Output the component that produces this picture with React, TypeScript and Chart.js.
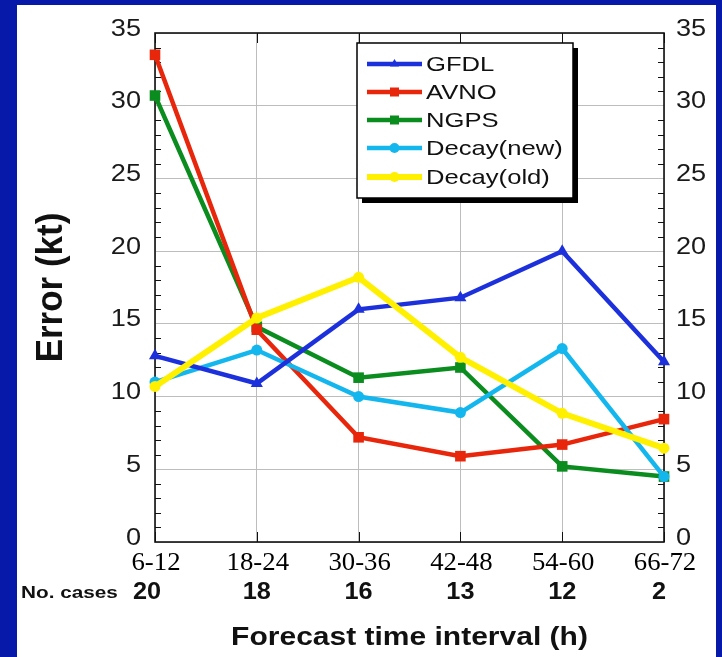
import React, { useEffect, useRef } from 'react';
import { Chart, registerables } from 'chart.js';

Chart.register(...registerables);

const CATEGORIES = ['6-12', '18-24', '30-36', '42-48', '54-60', '66-72'];
const CASES = ['20', '18', '16', '13', '12', '2'];
const GFDL = [12.8, 10.9, 16.0, 16.8, 20.0, 12.4];
const AVNO = [33.5, 14.6, 7.2, 5.9, 6.7, 8.45];
const NGPS = [30.7, 14.8, 11.3, 12.0, 5.2, 4.5];
const DECAY_NEW = [11.0, 13.2, 10.0, 8.9, 13.3, 4.5];
const DECAY_OLD = [10.7, 15.4, 18.2, 12.7, 8.85, 6.45];
const Y_TICKS = [0, 5, 10, 15, 20, 25, 30, 35];
const SERIES_NAMES = ['GFDL', 'AVNO', 'NGPS', 'Decay(new)', 'Decay(old)'];

const COLORS = ['#1c30dc', '#e8260c', '#0b8c1e', '#14b6ee', '#fff000'];
const POINT_STYLES = ['triangle', 'rect', 'rect', 'circle', 'circle'];
const POINT_RADII = [7, 7.5, 7.5, 5.5, 5.5];
const LINE_WIDTHS = [4.5, 4.5, 4.5, 4.5, 6];
const ORDERS = [1, 3, 4, 2, 0];

const BG_BLUE = '#0619a8';
const SANS = '"Liberation Sans", Arial, Helvetica, sans-serif';
const SERIF = '"Liberation Serif", "Times New Roman", serif';

function stretchedText(
  ctx: CanvasRenderingContext2D,
  text: string,
  x: number,
  y: number,
  font: string,
  align: CanvasTextAlign,
  sx: number,
  color = '#111'
) {
  ctx.save();
  ctx.translate(x, y);
  ctx.scale(sx, 1);
  ctx.font = font;
  ctx.fillStyle = color;
  ctx.textAlign = align;
  ctx.textBaseline = 'middle';
  ctx.fillText(text, 0, 0);
  ctx.restore();
}

function drawMarker(ctx: CanvasRenderingContext2D, style: string, x: number, y: number, r: number, color: string) {
  ctx.save();
  ctx.fillStyle = color;
  ctx.beginPath();
  if (style === 'triangle') {
    ctx.moveTo(x, y - r);
    ctx.lineTo(x + r * 0.9, y + r * 0.5);
    ctx.lineTo(x - r * 0.9, y + r * 0.5);
    ctx.closePath();
  } else if (style === 'rect') {
    ctx.rect(x - r, y - r, 2 * r, 2 * r);
  } else {
    ctx.arc(x, y, r, 0, Math.PI * 2);
  }
  ctx.fill();
  ctx.restore();
}

const framePlugin = {
  id: 'frame',
  beforeDraw(chart: any) {
    const ctx = chart.ctx as CanvasRenderingContext2D;
    ctx.save();
    ctx.fillStyle = BG_BLUE;
    ctx.fillRect(0, 0, chart.width, chart.height);
    ctx.fillStyle = '#ffffff';
    ctx.fillRect(17, 5, 699, chart.height - 5);
    ctx.restore();
  },
  beforeDatasetsDraw(chart: any) {
    const ctx = chart.ctx as CanvasRenderingContext2D;
    const { left, right, top, bottom } = chart.chartArea;
    const y = chart.scales.y;
    const x = chart.scales.x;
    ctx.save();
    ctx.strokeStyle = '#111';
    ctx.lineWidth = 1;
    for (let v = 1; v < 35; v++) {
      if (v % 5 === 0) continue;
      const py = Math.round(y.getPixelForValue(v)) + 0.5;
      ctx.beginPath();
      ctx.moveTo(left, py);
      ctx.lineTo(left + 6, py);
      ctx.moveTo(right, py);
      ctx.lineTo(right - 6, py);
      ctx.stroke();
    }
    for (let i = 0; i < CATEGORIES.length; i++) {
      const px = Math.round(x.getPixelForValue(i)) + 0.5;
      ctx.beginPath();
      ctx.moveTo(px, top);
      ctx.lineTo(px, top + 10);
      ctx.moveTo(px, bottom);
      ctx.lineTo(px, bottom - 10);
      ctx.stroke();
    }
    ctx.lineWidth = 1.6;
    ctx.strokeRect(left, top, right - left, bottom - top);
    ctx.restore();
  },
  afterDatasetsDraw(chart: any) {
    const ctx = chart.ctx as CanvasRenderingContext2D;
    const bx = 357, by = 43, bw = 216, bh = 155;
    ctx.save();
    ctx.fillStyle = '#000';
    ctx.fillRect(bx + 5, by + 5, bw, bh);
    ctx.fillStyle = '#fff';
    ctx.fillRect(bx, by, bw, bh);
    ctx.strokeStyle = '#000';
    ctx.lineWidth = 1.5;
    ctx.strokeRect(bx, by, bw, bh);
    const rowY = [64, 92, 120, 148, 177];
    for (let i = 0; i < SERIES_NAMES.length; i++) {
      const ry = rowY[i];
      ctx.strokeStyle = COLORS[i];
      ctx.lineWidth = i === 4 ? 6 : 4.5;
      ctx.beginPath();
      ctx.moveTo(367, ry);
      ctx.lineTo(422, ry);
      ctx.stroke();
      drawMarker(ctx, POINT_STYLES[i], 394.5, ry, POINT_STYLES[i] === 'rect' ? 4.5 : 5, COLORS[i]);
      stretchedText(ctx, SERIES_NAMES[i], 426, ry + 1, `21px ${SANS}`, 'left', 1.22);
    }
    ctx.restore();
  },
  afterDraw(chart: any) {
    const ctx = chart.ctx as CanvasRenderingContext2D;
    const { left, right, top, bottom } = chart.chartArea;
    const y = chart.scales.y;
    const x = chart.scales.x;
    for (const v of Y_TICKS) {
      const py = y.getPixelForValue(v) - 4;
      stretchedText(ctx, String(v), left - 14, py, `24px ${SANS}`, 'right', 1.13, '#1a1a1a');
      stretchedText(ctx, String(v), right + 12, py, `24px ${SANS}`, 'left', 1.13, '#1a1a1a');
    }
    for (let i = 0; i < CATEGORIES.length; i++) {
      const px = x.getPixelForValue(i);
      stretchedText(ctx, CATEGORIES[i], px + 1, bottom + 21, `25px ${SERIF}`, 'center', 1.07, '#000');
    }
    stretchedText(ctx, 'No. cases', 21, bottom + 51, `bold 17px ${SANS}`, 'left', 1.22);
    for (let i = 0; i < CASES.length; i++) {
      let px = x.getPixelForValue(i);
      if (i === 0) px -= 8;
      if (i === CASES.length - 1) px -= 5;
      stretchedText(ctx, CASES[i], px, bottom + 51, `bold 23px ${SANS}`, 'center', 1.1);
    }
    stretchedText(ctx, 'Forecast time interval (h)', (left + right) / 2, bottom + 96, `bold 25px ${SANS}`, 'center', 1.2);
    ctx.save();
    ctx.translate(52, (top + bottom) / 2);
    ctx.rotate(-Math.PI / 2);
    ctx.scale(1, 1.05);
    ctx.font = `bold 35px ${SANS}`;
    ctx.fillStyle = '#111';
    ctx.textAlign = 'center';
    ctx.textBaseline = 'middle';
    ctx.fillText('Error (kt)', 0, 0);
    ctx.restore();
  },
};

export default function App() {
  const ref = useRef<HTMLCanvasElement>(null);
  useEffect(() => {
    const canvas = ref.current;
    if (!canvas) return;
    const seriesData = [GFDL, AVNO, NGPS, DECAY_NEW, DECAY_OLD];
    const chart = new Chart(canvas, {
      type: 'line',
      data: {
        labels: CATEGORIES,
        datasets: seriesData.map((d, i) => ({
          label: SERIES_NAMES[i],
          data: d,
          borderColor: COLORS[i],
          backgroundColor: COLORS[i],
          borderWidth: LINE_WIDTHS[i],
          pointStyle: POINT_STYLES[i] as any,
          pointRadius: POINT_RADII[i],
          pointBorderWidth: 0,
          tension: 0,
          fill: false,
          clip: false as any,
          order: ORDERS[i],
          yAxisID: 'y',
        })),
      },
      options: {
        responsive: false,
        devicePixelRatio: 1,
        animation: false,
        events: [],
        layout: { padding: { top: 33, left: 0, right: 0, bottom: 0 } },
        plugins: {
          legend: { display: false },
          tooltip: { enabled: false },
          title: { display: false },
        },
        scales: {
          x: {
            type: 'category',
            offset: false,
            grid: { color: '#bdbdbd', lineWidth: 1, drawTicks: false },
            border: { display: false },
            ticks: { display: false },
            afterFit: (s: any) => {
              s.height = 115;
            },
          },
          y: {
            position: 'left',
            min: 0,
            max: 35,
            ticks: { display: false, stepSize: 5 },
            grid: { color: '#bdbdbd', lineWidth: 1, drawTicks: false },
            border: { display: false },
            afterFit: (s: any) => {
              s.width = 155;
            },
          },
          y2: {
            axis: 'y',
            position: 'right',
            min: 0,
            max: 35,
            ticks: { display: false, stepSize: 5 },
            grid: { display: false, drawTicks: false },
            border: { display: false },
            afterFit: (s: any) => {
              s.width = 58;
            },
          },
        } as any,
      },
      plugins: [framePlugin],
    });
    return () => chart.destroy();
  }, []);
  return (
    <div style={{ position: 'fixed', left: 0, top: 0, width: 722, height: 657 }}>
      <canvas ref={ref} width={722} height={657} style={{ display: 'block', width: 722, height: 657 }} />
    </div>
  );
}
